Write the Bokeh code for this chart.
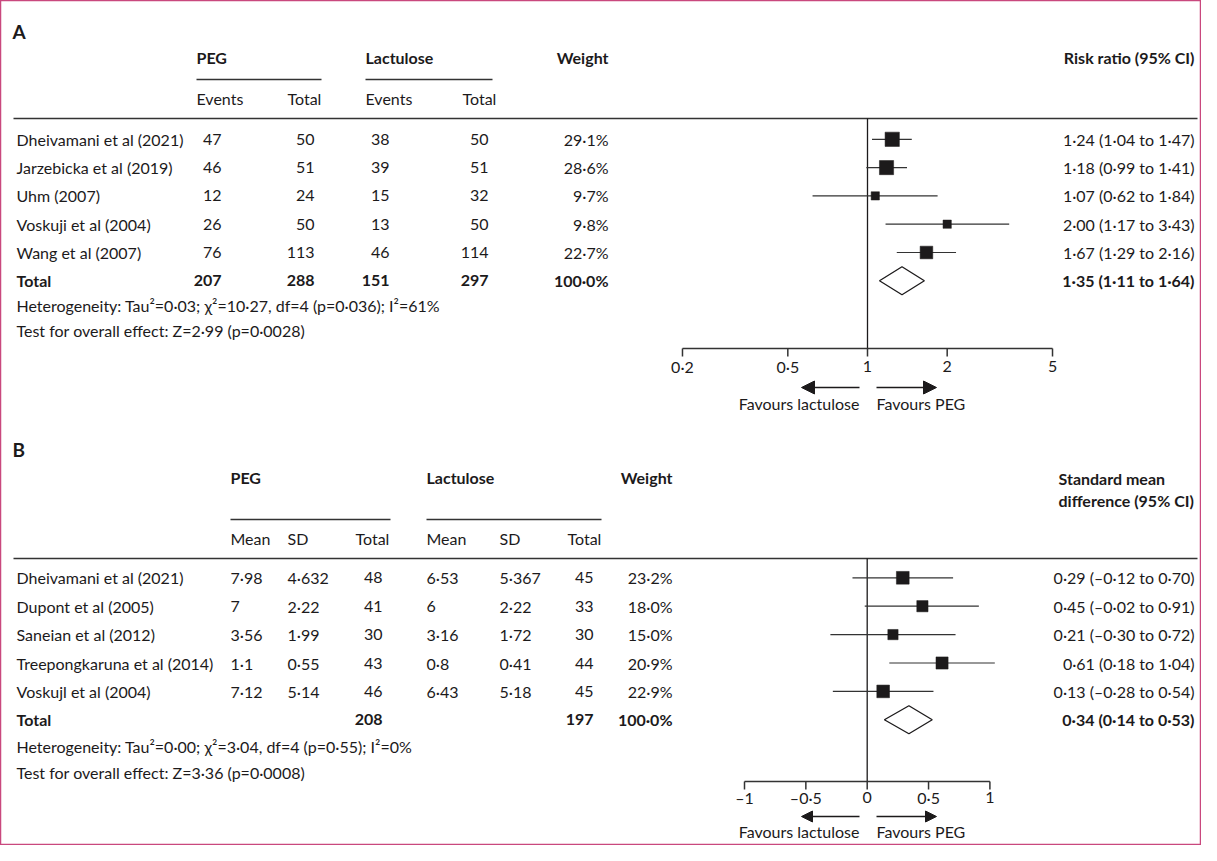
import math
from bokeh.plotting import figure
from bokeh.models import Range1d, LogScale, LinearScale, Arrow, NormalHead
from bokeh.core.properties import value
from bokeh.embed import file_html
from bokeh.resources import INLINE

# ---------------- Panel A data: risk ratio ----------------
studies_a = ["Dheivamani et al (2021)", "Jarzebicka et al (2019)", "Uhm (2007)",
             "Voskuji et al (2004)", "Wang et al (2007)"]
peg_events_a = [47, 46, 12, 26, 76]
peg_total_a = [50, 51, 24, 50, 113]
lac_events_a = [38, 39, 15, 13, 46]
lac_total_a = [50, 51, 32, 50, 114]
weight_a = [29.1, 28.6, 9.7, 9.8, 22.7]
rr_a = [1.24, 1.18, 1.07, 2.00, 1.67]
rr_lo_a = [1.04, 0.99, 0.62, 1.17, 1.29]
rr_hi_a = [1.47, 1.41, 1.84, 3.43, 2.16]
total_a = {"peg_events": 207, "peg_total": 288, "lac_events": 151, "lac_total": 297,
           "weight": 100.0, "est": 1.35, "lo": 1.11, "hi": 1.64}
het_a = "Heterogeneity: Tau\u00b2=0\u00b703; \u03c7\u00b2=10\u00b727, df=4 (p=0\u00b7036); I\u00b2=61%"
test_a = "Test for overall effect: Z=2\u00b799 (p=0\u00b70028)"
ticks_a = [0.2, 0.5, 1, 2, 5]
tick_labels_a = ["0\u00b72", "0\u00b75", "1", "2", "5"]

# ---------------- Panel B data: standard mean difference ----------------
studies_b = ["Dheivamani et al (2021)", "Dupont et al (2005)", "Saneian et al (2012)",
             "Treepongkaruna et al (2014)", "Voskujl et al (2004)"]
peg_mean_b = [7.98, 7, 3.56, 1.1, 7.12]
peg_sd_b = [4.632, 2.22, 1.99, 0.55, 5.14]
peg_n_b = [48, 41, 30, 43, 46]
lac_mean_b = [6.53, 6, 3.16, 0.8, 6.43]
lac_sd_b = [5.367, 2.22, 1.72, 0.41, 5.18]
lac_n_b = [45, 33, 30, 44, 45]
weight_b = [23.2, 18.0, 15.0, 20.9, 22.9]
smd_b = [0.29, 0.45, 0.21, 0.61, 0.13]
smd_lo_b = [-0.12, -0.02, -0.30, 0.18, -0.28]
smd_hi_b = [0.70, 0.91, 0.72, 1.04, 0.54]
total_b = {"peg_n": 208, "lac_n": 197, "weight": 100.0, "est": 0.34, "lo": 0.14, "hi": 0.53}
het_b = "Heterogeneity: Tau\u00b2=0\u00b700; \u03c7\u00b2=3\u00b704, df=4 (p=0\u00b755); I\u00b2=0%"
test_b = "Test for overall effect: Z=3\u00b736 (p=0\u00b70008)"
ticks_b = [-1, -0.5, 0, 0.5, 1]
tick_labels_b = ["\u20131", "\u20130\u00b75", "0", "0\u00b75", "1"]


def dot(v, d=2):
    s = f"{abs(v):.{d}f}".replace(".", "\u00b7")
    return ("\u2013" if v < 0 else "") + s


def raw(v):
    return repr(v).replace(".", "\u00b7")


def ci(e, lo, hi):
    return f"{dot(e)} ({dot(lo)} to {dot(hi)})"


def pct(w):
    return f"{w:.1f}%".replace(".", "\u00b7")


# ---------------- layout / style ----------------
FONT = "Lato"
INK = "#1c1a1b"
LINE = "#333333"
FS = "16px"
W, H = 1201, 845
XR = 1194          # right edge for right-aligned column

A_ONE_PX, A_DEC_PX = 867.0, 264.7
B_ZERO_PX, B_UNIT_PX = 866.7, 122.7

p = figure(width=W, height=H, x_range=Range1d(0, W), y_range=Range1d(H, 0),
           output_backend="svg", toolbar_location=None, x_axis_type=None, y_axis_type=None,
           min_border=0)
p.grid.visible = False
p.outline_line_color = "#c9487e"
p.outline_line_width = 1.5
p.background_fill_color = "white"
p.border_fill_color = "white"

p.extra_x_ranges = {
    "rr": Range1d(10 ** ((0 - A_ONE_PX) / A_DEC_PX), 10 ** ((W - A_ONE_PX) / A_DEC_PX)),
    "smd": Range1d((0 - B_ZERO_PX) / B_UNIT_PX, (W - B_ZERO_PX) / B_UNIT_PX),
}
p.extra_x_scales = {"rr": LogScale(), "smd": LinearScale()}


def txt(xs, ys, ts, align="left", bold=False, size=FS, rng="default"):
    n = len(ts)
    if not isinstance(xs, list):
        xs = [xs] * n
    if not isinstance(ys, list):
        ys = [ys] * n
    p.text(x=xs, y=ys, text=ts, text_align=align, text_baseline="middle",
           text_font=value(FONT), text_font_size=size,
           text_font_style="bold" if bold else "normal", text_color=INK, x_range_name=rng)


def hline(x0, x1, y, w=1.4):
    p.segment(x0=[x0], x1=[x1], y0=[y], y1=[y], line_color=LINE, line_width=w)


def arrows(y_arrow, y_text, head_size=13):
    head = dict(size=head_size, fill_color=INK, line_color=INK)
    p.add_layout(Arrow(end=NormalHead(**head), x_start=859, y_start=y_arrow, x_end=801, y_end=y_arrow,
                       line_color=INK, line_width=1.5))
    p.add_layout(Arrow(end=NormalHead(**head), x_start=876, y_start=y_arrow, x_end=936, y_end=y_arrow,
                       line_color=INK, line_width=1.5))
    txt([859], [y_text], ["Favours lactulose"], align="right")
    txt([876], [y_text], ["Favours PEG"], align="left")


def forest(rng, rows, est, lo, hi, wts, tot_y, tot, y_top, y_axis, ref, ticks, labels, lab_off=18):
    size = [2.65 * math.sqrt(w) for w in wts]
    p.segment(x0=[ref], x1=[ref], y0=[y_top], y1=[y_axis], line_color=INK, line_width=1.3,
              x_range_name=rng)
    p.segment(x0=lo, x1=hi, y0=rows, y1=rows, line_color=LINE, line_width=1.2, x_range_name=rng)
    p.scatter(x=est, y=rows, size=size, marker="square", fill_color=INK, line_color=INK,
              line_width=0.5, x_range_name=rng)
    hh = 14
    p.patch(x=[tot["lo"], tot["est"], tot["hi"], tot["est"]],
            y=[tot_y, tot_y - hh, tot_y, tot_y + hh],
            fill_color="white", line_color=INK, line_width=1.3, x_range_name=rng)
    p.segment(x0=[ticks[0]], x1=[ticks[-1]], y0=[y_axis], y1=[y_axis], line_color=LINE,
              line_width=1.5, x_range_name=rng)
    p.segment(x0=ticks, x1=ticks, y0=[y_axis] * len(ticks), y1=[y_axis + 8] * len(ticks),
              line_color=LINE, line_width=1.5, x_range_name=rng)
    txt(list(ticks), y_axis + lab_off, labels, align="center", rng=rng)


# ================= Panel A =================
txt([12], [31], ["A"], bold=True, size="19px")
txt([196, 365], 57, ["PEG", "Lactulose"], bold=True)
txt([608], [57], ["Weight"], align="right", bold=True)
txt([XR], [57], ["Risk ratio (95% CI)"], align="right", bold=True)
hline(196, 321, 79)
hline(365, 492, 79)
txt([196, 287, 365, 462], 98, ["Events", "Total", "Events", "Total"])
hline(13, 1197, 118, w=1.5)

rows_a = [138.8 + 28.3 * i for i in range(len(studies_a))]
tot_y_a = 138.8 + 28.3 * len(studies_a)
txt(16, rows_a, studies_a)
txt(221, rows_a, [str(v) for v in peg_events_a], align="right")
txt(314, rows_a, [str(v) for v in peg_total_a], align="right")
txt(389, rows_a, [str(v) for v in lac_events_a], align="right")
txt(488, rows_a, [str(v) for v in lac_total_a], align="right")
txt(608, rows_a, [pct(w) for w in weight_a], align="right")
txt(XR, rows_a, [ci(e, l, h) for e, l, h in zip(rr_a, rr_lo_a, rr_hi_a)], align="right")

txt([16], [tot_y_a], ["Total"], bold=True)
txt([221, 314, 389, 488], tot_y_a,
    [str(total_a["peg_events"]), str(total_a["peg_total"]), str(total_a["lac_events"]),
     str(total_a["lac_total"])], align="right", bold=True)
txt([608], [tot_y_a], [pct(total_a["weight"])], align="right", bold=True)
txt([XR], [tot_y_a], [ci(total_a["est"], total_a["lo"], total_a["hi"])], align="right", bold=True)
txt([16], [305], [het_a])
txt([16], [330], [test_a])

forest("rr", rows_a, rr_a, rr_lo_a, rr_hi_a, weight_a, tot_y_a, total_a, 118, 348, 1,
       ticks_a, tick_labels_a)
arrows(387, 403)

# ================= Panel B =================
txt([12], [449], ["B"], bold=True, size="19px")
txt([230, 426], 477, ["PEG", "Lactulose"], bold=True)
txt([672], [477], ["Weight"], align="right", bold=True)
txt([1058], [478], ["Standard mean"], bold=True)
txt([1058], [500], ["difference (95% CI)"], bold=True)
hline(230, 390, 519)
hline(426, 601, 519)
txt([230, 287, 355, 426, 499, 567], 538, ["Mean", "SD", "Total", "Mean", "SD", "Total"])
hline(13, 1197, 558, w=1.5)

rows_b = [577.3 + 28.4 * i for i in range(len(studies_b))]
tot_y_b = 577.3 + 28.4 * len(studies_b)
txt(16, rows_b, studies_b)
txt(230, rows_b, [raw(v) for v in peg_mean_b])
txt(287, rows_b, [raw(v) for v in peg_sd_b])
txt(382, rows_b, [str(v) for v in peg_n_b], align="right")
txt(426, rows_b, [raw(v) for v in lac_mean_b])
txt(499, rows_b, [raw(v) for v in lac_sd_b])
txt(593, rows_b, [str(v) for v in lac_n_b], align="right")
txt(672, rows_b, [pct(w) for w in weight_b], align="right")
txt(XR, rows_b, [ci(e, l, h) for e, l, h in zip(smd_b, smd_lo_b, smd_hi_b)], align="right")

txt([16], [tot_y_b], ["Total"], bold=True)
txt([382, 593], tot_y_b, [str(total_b["peg_n"]), str(total_b["lac_n"])], align="right", bold=True)
txt([672], [tot_y_b], [pct(total_b["weight"])], align="right", bold=True)
txt([XR], [tot_y_b], [ci(total_b["est"], total_b["lo"], total_b["hi"])], align="right", bold=True)
txt([16], [746], [het_b])
txt([16], [772], [test_b])

forest("smd", rows_b, smd_b, smd_lo_b, smd_hi_b, weight_b, tot_y_b, total_b, 558, 781, 0,
       ticks_b, tick_labels_b, lab_off=16)
arrows(816, 831, head_size=11)

open("out.html", "w").write(file_html(p, INLINE))
